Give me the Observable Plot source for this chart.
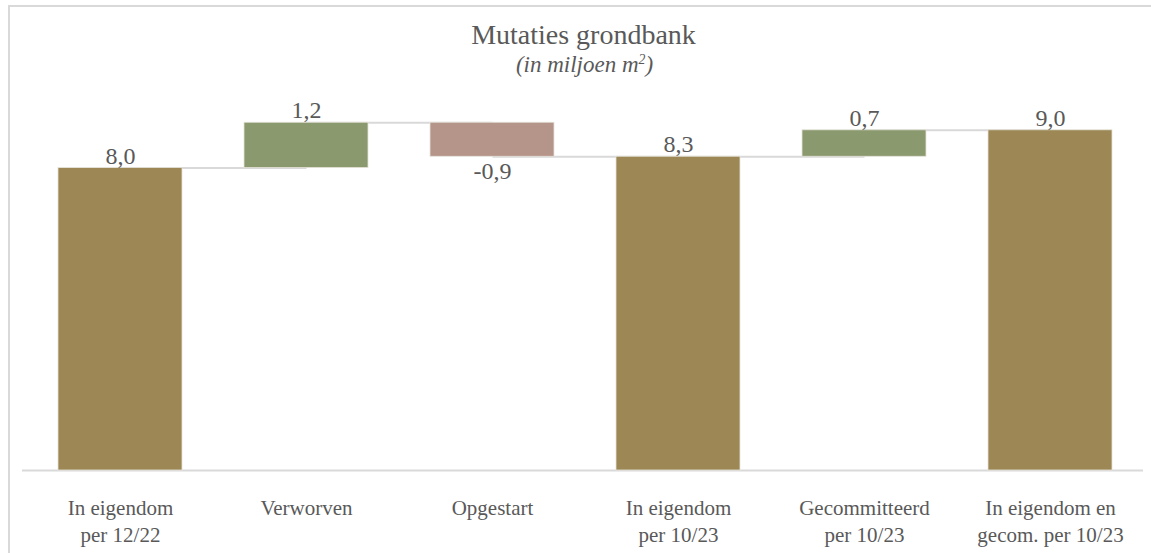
<!DOCTYPE html>
<html>
<head>
<meta charset="utf-8">
<script src="https://cdn.jsdelivr.net/npm/d3@7"></script>
<script src="https://cdn.jsdelivr.net/npm/@observablehq/plot@0.6"></script>
<style>
  html, body { margin: 0; padding: 0; background: #ffffff; }
  #wrap { position: relative; width: 1151px; height: 553px; overflow: hidden; font-family: "Liberation Serif", "Times New Roman", serif; color: #595959; }
  #frame { position: absolute; left: 8px; top: 5px; width: 1200px; height: 600px; border-top: 2px solid #d9d9d9; border-left: 2px solid #d9d9d9; box-sizing: border-box; }
  #header { position: relative; height: 85px; }
  #title { position: absolute; left: 0; width: 1167px; top: 19px; text-align: center; font-size: 28px; line-height: 1.15; white-space: nowrap; }
  #subtitle { position: absolute; left: 0; width: 1169px; top: 52px; text-align: center; font-size: 23px; font-style: italic; line-height: 1.15; white-space: nowrap; }
  #chart { position: relative; }
  #chart svg { display: block; }
</style>
</head>
<body>
<div id="wrap">
  <div id="frame"></div>
  <div id="header">
    <div id="title">Mutaties grondbank</div>
    <div id="subtitle">(in miljoen m<sup style="font-size:0.6em;vertical-align:0.55em;line-height:0">2</sup>)</div>
  </div>
  <div id="chart"></div>
</div>
<script>
// ---- data ----
const categories = [
  "In eigendom\nper 12/22",
  "Verworven",
  "Opgestart",
  "In eigendom\nper 10/23",
  "Gecommitteerd\nper 10/23",
  "In eigendom en\ngecom. per 10/23"
];
const values = [8.0, 1.2, -0.9, 8.3, 0.7, 9.0];
const kinds = ["total", "delta", "delta", "total", "delta", "total"];
const palette = { total: "#9C8755", up: "#8A9A6E", down: "#B59489" };

// ---- build waterfall rows ----
let running = 0;
const rows = categories.map((cat, i) => {
  const v = values[i];
  let y1, y2;
  if (kinds[i] === "total") { y1 = 0; y2 = v; running = v; }
  else { y1 = running; y2 = running + v; running = y2; }
  const color = kinds[i] === "total" ? palette.total : (v >= 0 ? palette.up : palette.down);
  const label = d3.format(".1f")(v).replace(".", ",").replace("−", "-");
  return { cat, y1, y2, v, color, label, top: Math.max(y1, y2), bottom: Math.min(y1, y2) };
});
const connectors = rows.slice(0, -1).map((r, i) => ({ from: r.cat, to: rows[i + 1].cat, level: r.y2 }));
const posLabels = rows.filter(r => r.v >= 0);
const negLabels = rows.filter(r => r.v < 0);

const chart = Plot.plot({
  width: 1151,
  height: 468,
  marginLeft: 22,
  marginRight: 8,
  marginTop: 7,
  marginBottom: 83,
  style: { fontFamily: "'Liberation Serif', 'Times New Roman', serif", color: "#595959", background: "transparent", overflow: "visible" },
  x: { domain: categories, range: [26, 1143], paddingInner: 1 / 3, paddingOuter: 1 / 6, label: null },
  y: { domain: [0, 10], axis: null },
  marks: [
    Plot.ruleY([0], { stroke: "#d9d9d9", strokeWidth: 2 }),
    Plot.link(connectors, { x1: "from", x2: "to", y1: "level", y2: "level", stroke: "#d9d9d9", strokeWidth: 2 }),
    Plot.barY(rows, { x: "cat", y1: "y1", y2: "y2", fill: "color", stroke: "#e6e3da", strokeWidth: 0.8 }),
    Plot.text(posLabels, { x: "cat", y: "top", text: "label", fill: "#595959", fontSize: 24, dy: -12 }),
    Plot.text(negLabels, { x: "cat", y: "bottom", text: "label", fill: "#595959", fontSize: 24, dy: 15 }),
    Plot.axisX({ tickSize: 0, tickPadding: 25, fontSize: 21, lineHeight: 1.29, label: null, fill: "#595959" })
  ]
});
document.getElementById("chart").appendChild(chart);
</script>
</body>
</html>
